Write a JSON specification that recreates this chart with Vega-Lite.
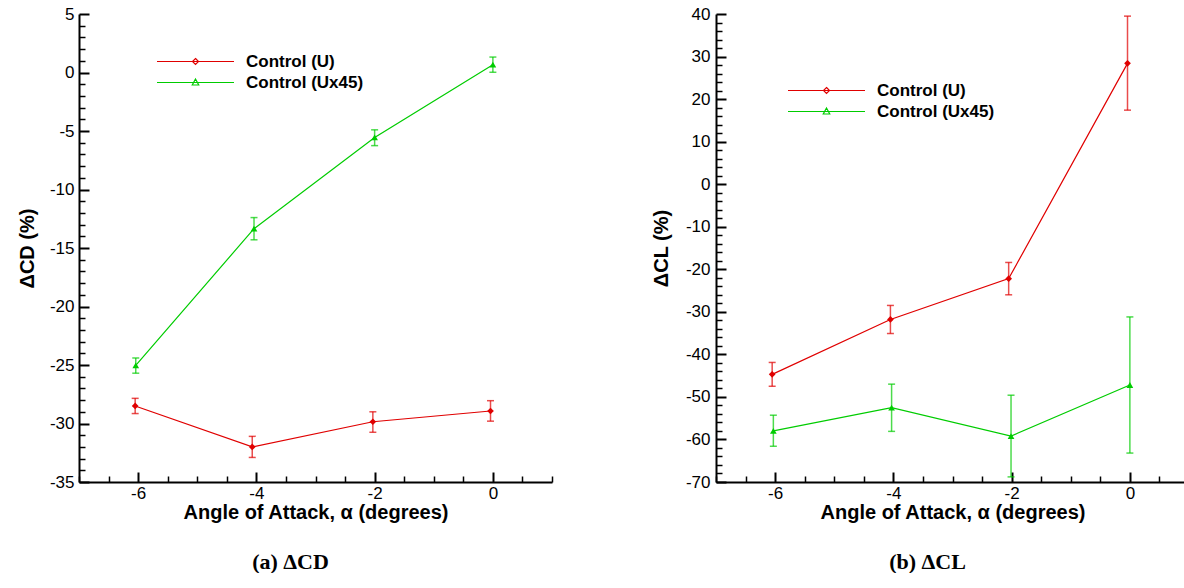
{
  "$schema": "https://vega.github.io/schema/vega-lite/v6.json",
  "background": "white",
  "padding": {"left": 17, "top": 5, "right": 0, "bottom": 0},
  "spacing": 98,
  "datasets": {
    "cd": [
      {"series": "Control (U)", "alpha": -6.05, "value": -28.5, "lo": -29.15, "hi": -27.85},
      {"series": "Control (U)", "alpha": -4.07, "value": -32.0, "lo": -32.9, "hi": -31.1},
      {"series": "Control (U)", "alpha": -2.03, "value": -29.85, "lo": -30.75, "hi": -29.0},
      {"series": "Control (U)", "alpha": -0.04, "value": -28.93, "lo": -29.8, "hi": -28.05},
      {"series": "Control (Ux45)", "alpha": -6.04, "value": -25.03, "lo": -25.7, "hi": -24.4},
      {"series": "Control (Ux45)", "alpha": -4.04, "value": -13.35, "lo": -14.3, "hi": -12.4},
      {"series": "Control (Ux45)", "alpha": -2.0, "value": -5.55, "lo": -6.25, "hi": -4.9},
      {"series": "Control (Ux45)", "alpha": 0.0, "value": 0.67, "lo": 0.02, "hi": 1.32}
    ],
    "cl": [
      {"series": "Control (U)", "alpha": -6.05, "value": -44.7, "lo": -47.5, "hi": -41.9},
      {"series": "Control (U)", "alpha": -4.05, "value": -31.8, "lo": -35.1, "hi": -28.5},
      {"series": "Control (U)", "alpha": -2.05, "value": -22.2, "lo": -26.0, "hi": -18.4},
      {"series": "Control (U)", "alpha": -0.04, "value": 28.4, "lo": 17.4, "hi": 39.5},
      {"series": "Control (Ux45)", "alpha": -6.03, "value": -58.0, "lo": -61.6, "hi": -54.3},
      {"series": "Control (Ux45)", "alpha": -4.03, "value": -52.5, "lo": -58.1, "hi": -47.0},
      {"series": "Control (Ux45)", "alpha": -2.01, "value": -59.2, "lo": -68.8, "hi": -49.6},
      {"series": "Control (Ux45)", "alpha": 0.0, "value": -47.2, "lo": -63.2, "hi": -31.2}
    ]
  },
  "resolve": {"legend": {"color": "independent", "shape": "independent"}},
  "config": {
    "view": {"stroke": null},
    "axis": {
      "domainColor": "black", "domainWidth": 2, "tickColor": "black", "tickWidth": 2,
      "labelFont": "Liberation Sans", "labelFontSize": 17, "labelColor": "black",
      "titleFont": "Liberation Sans", "titleFontSize": 20, "titleFontWeight": "bold", "titleColor": "black",
      "grid": false, "labelFlush": false, "labelOverlap": false, "tickSize": -10
    },
    "legend": {
      "title": null, "orient": "none", "padding": 0,
      "labelFont": "Liberation Sans", "labelFontWeight": "bold", "labelFontSize": 17, "labelColor": "black",
      "symbolSize": 100, "symbolStrokeWidth": 1.2, "labelOffset": 42, "rowPadding": 3
    },
    "title": {"font": "Liberation Serif", "fontSize": 22, "fontWeight": "bold", "color": "black", "orient": "bottom", "offset": 30, "dx": -25}
  },
  "hconcat": [
    {
      "width": 473, "height": 468,
      "data": {"name": "cd"},
      "title": {"text": "(a) ΔCD"},
      "resolve": {"axis": {"x": "independent", "y": "independent"}},
      "layer": [
        {
          "mark": {"type": "line", "strokeWidth": 1.2},
          "encoding": {
            "x": {"field": "alpha", "type": "quantitative", "scale": {"domain": [-7, 1], "nice": false, "zero": false},
              "axis": {"title": "Angle of Attack, α  (degrees)", "values": [-6, -4, -2, 0], "labelExpr": "'' + datum.value",
                "labelOverlap": false, "tickSize": -10, "tickWidth": 2, "labelPadding": 13, "titlePadding": 1, "orient": "bottom"}},
            "y": {"field": "value", "type": "quantitative", "scale": {"domain": [-35, 5], "nice": false, "zero": false},
              "axis": {"title": "ΔCD (%)", "values": [-35, -30, -25, -20, -15, -10, -5, 0, 5], "labelExpr": "'' + datum.value",
                "labelOverlap": false, "tickSize": -10, "tickWidth": 2, "labelPadding": 15, "titlePadding": 12, "orient": "left"}},
            "stroke": {"field": "series", "type": "nominal", "scale": {"domain": ["Control (U)", "Control (Ux45)"], "range": ["#e00000", "#00cc00"]}, "legend": null}
          }
        },
        {
          "mark": {"type": "rule", "strokeWidth": 1.5, "opacity": 0.7},
          "encoding": {
            "x": {"field": "alpha", "type": "quantitative",
              "axis": {"title": null, "values": [-7,-6.5,-5.5,-5,-4.5,-3.5,-3,-2.5,-1.5,-1,-0.5,0.5,1], "labels": false, "domain": false,
                "tickSize": -6, "tickWidth": 1.5, "minExtent": 0, "maxExtent": 0, "orient": "bottom"}},
            "y": {"field": "lo", "type": "quantitative",
              "axis": {"title": null, "values": [-34,-33,-32,-31,-29,-28,-27,-26,-24,-23,-22,-21,-19,-18,-17,-16,-14,-13,-12,-11,-9,-8,-7,-6,-4,-3,-2,-1,1,2,3,4], "labels": false, "domain": false,
                "tickSize": -6, "tickWidth": 1.5, "minExtent": 0, "maxExtent": 0, "orient": "left"}},
            "y2": {"field": "hi"},
            "stroke": {"field": "series", "type": "nominal", "legend": null}
          }
        },
        {
          "mark": {"type": "tick", "orient": "horizontal", "size": 7, "thickness": 1.5, "opacity": 0.7},
          "encoding": {
            "x": {"field": "alpha", "type": "quantitative", "axis": null},
            "y": {"field": "lo", "type": "quantitative", "axis": null},
            "fill": {"field": "series", "type": "nominal", "scale": {"domain": ["Control (U)", "Control (Ux45)"], "range": ["#e00000", "#00cc00"]}, "legend": null}
          }
        },
        {
          "mark": {"type": "tick", "orient": "horizontal", "size": 7, "thickness": 1.5, "opacity": 0.7},
          "encoding": {
            "x": {"field": "alpha", "type": "quantitative", "axis": null},
            "y": {"field": "hi", "type": "quantitative", "axis": null},
            "fill": {"field": "series", "type": "nominal", "legend": null}
          }
        },
        {
          "transform": [{"filter": "datum.series === 'Control (U)'"}],
          "mark": {"type": "point", "filled": true, "opacity": 1, "size": 45, "shape": "diamond"},
          "encoding": {
            "x": {"field": "alpha", "type": "quantitative", "axis": null},
            "y": {"field": "value", "type": "quantitative", "axis": null},
            "fill": {"field": "series", "type": "nominal", "legend": null}
          }
        },
        {
          "transform": [{"filter": "datum.series === 'Control (Ux45)'"}],
          "mark": {"type": "point", "filled": true, "opacity": 1, "size": 45, "shape": "triangle-up"},
          "encoding": {
            "x": {"field": "alpha", "type": "quantitative", "axis": null},
            "y": {"field": "value", "type": "quantitative", "axis": null},
            "fill": {"field": "series", "type": "nominal", "legend": null}
          }
        },
        {
          "transform": [{"filter": "false"}],
          "mark": {"type": "point", "filled": false, "strokeWidth": 1.2, "opacity": 1},
          "encoding": {
            "x": {"field": "alpha", "type": "quantitative", "axis": null},
            "y": {"field": "value", "type": "quantitative", "axis": null},
            "color": {"field": "series", "type": "nominal", "scale": {"domain": ["Control (U)", "Control (Ux45)"], "range": ["#e00000", "#00cc00"]}, "legend": {"legendX": 108, "legendY": 39}},
            "shape": {"field": "series", "type": "nominal", "scale": {"domain": ["Control (U)", "Control (Ux45)"], "range": ["M-7.7,0H7.7M0,-0.6L0.6,0L0,0.6L-0.6,0Z", "M-7.7,0H7.7M0,-0.7L0.65,0.5L-0.65,0.5Z"]}, "legend": {"legendX": 108, "legendY": 39}}
          }
        }
      ]
    },
    {
      "width": 473, "height": 468,
      "data": {"name": "cl"},
      "title": {"text": "(b) ΔCL"},
      "resolve": {"axis": {"x": "independent", "y": "independent"}},
      "layer": [
        {
          "mark": {"type": "line", "strokeWidth": 1.2},
          "encoding": {
            "x": {"field": "alpha", "type": "quantitative", "scale": {"domain": [-7, 1], "nice": false, "zero": false},
              "axis": {"title": "Angle of Attack, α  (degrees)", "values": [-6, -4, -2, 0], "labelExpr": "'' + datum.value",
                "labelOverlap": false, "tickSize": -10, "tickWidth": 2, "labelPadding": 13, "titlePadding": 1, "orient": "bottom"}},
            "y": {"field": "value", "type": "quantitative", "scale": {"domain": [-70, 40], "nice": false, "zero": false},
              "axis": {"title": "ΔCL (%)", "values": [-70, -60, -50, -40, -30, -20, -10, 0, 10, 20, 30, 40], "labelExpr": "'' + datum.value",
                "labelOverlap": false, "tickSize": -10, "tickWidth": 2, "labelPadding": 16, "titlePadding": 14, "orient": "left"}},
            "stroke": {"field": "series", "type": "nominal", "scale": {"domain": ["Control (U)", "Control (Ux45)"], "range": ["#e00000", "#00cc00"]}, "legend": null}
          }
        },
        {
          "mark": {"type": "rule", "strokeWidth": 1.5, "opacity": 0.7},
          "encoding": {
            "x": {"field": "alpha", "type": "quantitative",
              "axis": {"title": null, "values": [-7,-6.5,-5.5,-5,-4.5,-3.5,-3,-2.5,-1.5,-1,-0.5,0.5,1], "labels": false, "domain": false,
                "tickSize": -6, "tickWidth": 1.5, "minExtent": 0, "maxExtent": 0, "orient": "bottom"}},
            "y": {"field": "lo", "type": "quantitative",
              "axis": {"title": null, "values": [-68,-66,-64,-62,-58,-56,-54,-52,-48,-46,-44,-42,-38,-36,-34,-32,-28,-26,-24,-22,-18,-16,-14,-12,-8,-6,-4,-2,2,4,6,8,12,14,16,18,22,24,26,28,32,34,36,38], "labels": false, "domain": false,
                "tickSize": -6, "tickWidth": 1.5, "minExtent": 0, "maxExtent": 0, "orient": "left"}},
            "y2": {"field": "hi"},
            "stroke": {"field": "series", "type": "nominal", "legend": null}
          }
        },
        {
          "mark": {"type": "tick", "orient": "horizontal", "size": 7, "thickness": 1.5, "opacity": 0.7},
          "encoding": {
            "x": {"field": "alpha", "type": "quantitative", "axis": null},
            "y": {"field": "lo", "type": "quantitative", "axis": null},
            "fill": {"field": "series", "type": "nominal", "scale": {"domain": ["Control (U)", "Control (Ux45)"], "range": ["#e00000", "#00cc00"]}, "legend": null}
          }
        },
        {
          "mark": {"type": "tick", "orient": "horizontal", "size": 7, "thickness": 1.5, "opacity": 0.7},
          "encoding": {
            "x": {"field": "alpha", "type": "quantitative", "axis": null},
            "y": {"field": "hi", "type": "quantitative", "axis": null},
            "fill": {"field": "series", "type": "nominal", "legend": null}
          }
        },
        {
          "transform": [{"filter": "datum.series === 'Control (U)'"}],
          "mark": {"type": "point", "filled": true, "opacity": 1, "size": 45, "shape": "diamond"},
          "encoding": {
            "x": {"field": "alpha", "type": "quantitative", "axis": null},
            "y": {"field": "value", "type": "quantitative", "axis": null},
            "fill": {"field": "series", "type": "nominal", "legend": null}
          }
        },
        {
          "transform": [{"filter": "datum.series === 'Control (Ux45)'"}],
          "mark": {"type": "point", "filled": true, "opacity": 1, "size": 45, "shape": "triangle-up"},
          "encoding": {
            "x": {"field": "alpha", "type": "quantitative", "axis": null},
            "y": {"field": "value", "type": "quantitative", "axis": null},
            "fill": {"field": "series", "type": "nominal", "legend": null}
          }
        },
        {
          "transform": [{"filter": "false"}],
          "mark": {"type": "point", "filled": false, "strokeWidth": 1.2, "opacity": 1},
          "encoding": {
            "x": {"field": "alpha", "type": "quantitative", "axis": null},
            "y": {"field": "value", "type": "quantitative", "axis": null},
            "color": {"field": "series", "type": "nominal", "scale": {"domain": ["Control (U)", "Control (Ux45)"], "range": ["#e00000", "#00cc00"]}, "legend": {"legendX": 102, "legendY": 68}},
            "shape": {"field": "series", "type": "nominal", "scale": {"domain": ["Control (U)", "Control (Ux45)"], "range": ["M-7.7,0H7.7M0,-0.6L0.6,0L0,0.6L-0.6,0Z", "M-7.7,0H7.7M0,-0.7L0.65,0.5L-0.65,0.5Z"]}, "legend": {"legendX": 102, "legendY": 68}}
          }
        }
      ]
    }
  ]
}
